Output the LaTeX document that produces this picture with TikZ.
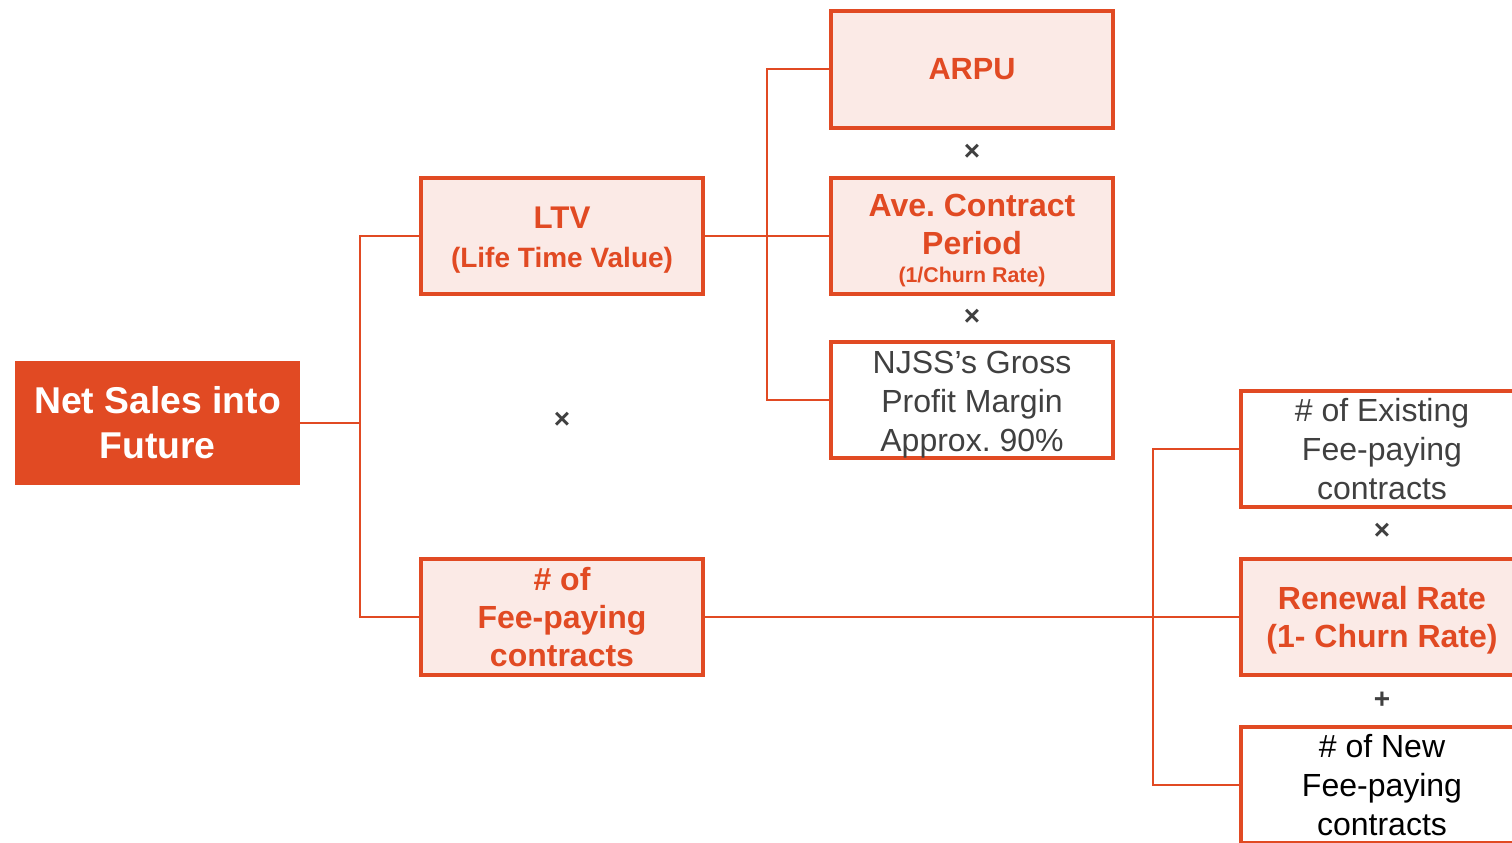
\documentclass[tikz,border=0pt]{standalone}
\usepackage{fontspec}
\setmainfont{Liberation Sans}
\frenchspacing
\definecolor{accent}{HTML}{E14A23}
\definecolor{pinkfill}{HTML}{FBEAE6}
\definecolor{darkgray}{HTML}{404040}
\tikzset{
  x=0.75pt, y=-0.75pt,
  box/.style={draw=accent, line width=3pt, minimum width=211.5pt, minimum height=87pt, inner sep=0pt},
  keybox/.style={box, fill=pinkfill},
  plainbox/.style={box, fill=white},
  keytext/.style={inner sep=0pt, align=center, text=accent, font=\bfseries\fontsize{24}{28.8}\selectfont},
  plaintext/.style={inner sep=0pt, align=center, text=darkgray, font=\fontsize{24}{29}\selectfont},
  rootbox/.style={fill=accent, text=white, minimum width=213.75pt, minimum height=93pt,
              inner sep=0pt, align=center, font=\bfseries\fontsize{28}{33.75}\selectfont},
  link/.style={draw=accent, line width=1.5pt},
  op/.style={text=darkgray, font=\bfseries\fontsize{21}{24}\selectfont, inner sep=0pt}
}
\begin{document}
\begin{tikzpicture}
\useasboundingbox (0,0) rectangle (1512,842);
\clip (0,0) rectangle (1512,842);
\coordinate (j1) at (360,423);
\coordinate (j2) at (767,236);
\coordinate (j3) at (1153,617);

\node[rootbox] (root) at (157.5,423) {Net Sales into\\Future};
\node[keybox] (ltv) at (562,236) {};
\node[keybox] (fee) at (562,617) {};
\node[keybox] (arpu) at (972,69.5) {};
\node[keybox] (ave) at (972,236) {};
\node[plainbox] (njss) at (972,400) {};
\node[plainbox] (exist) at (1382,449) {};
\node[keybox] (renew) at (1382,617) {};
\node[plainbox] (new) at (1382,785) {};

\node[keytext] (ltvt) at ([yshift=-3pt]ltv.center) {\fontsize{23.5}{27}\selectfont LTV\\\fontsize{21}{23.5}\selectfont(Life Time Value)};
\node[keytext] (feet) at (fee.center) {\# of\\Fee-paying\\contracts};
\node[keytext] (arput) at (arpu.center) {\fontsize{23}{27}\selectfont ARPU};
\node[keytext] (avet) at ([yshift=-3.5pt]ave.center) {Ave. Contract\\Period\\[-7.75pt]\fontsize{16}{20}\selectfont(1/Churn Rate)};
\node[plaintext] (njsst) at ([yshift=-3.4pt]njss.center) {NJSS’s Gross\\Profit Margin\\Approx. 90\%};
\node[plaintext] (existt) at (exist.center) {\# of Existing\\Fee-paying\\contracts};
\node[keytext] (renewt) at ([yshift=-2.25pt]renew.center) {Renewal Rate\\(1- Churn Rate)};
\node[plaintext, text=black] (newt) at (new.center) {\# of New\\Fee-paying\\contracts};

\draw[link] (root.east) -- (j1);
\draw[link] (j1) |- (ltv.west);
\draw[link] (j1) |- (fee.west);
\draw[link] (ltv.east) -- (ave.west);
\draw[link] (j2) |- (arpu.west);
\draw[link] (j2) |- (njss.west);
\draw[link] (fee.east) -- (renew.west);
\draw[link] (j3) |- (exist.west);
\draw[link] (j3) |- (new.west);

\node[op] (op1) at (972,152) {×};
\node[op] (op2) at (972,317) {×};
\node[op] (op3) at (562,420) {×};
\node[op] (op4) at (1382,531) {×};
\node[op] (op5) at (1382,700) {+};
\end{tikzpicture}
\end{document}
